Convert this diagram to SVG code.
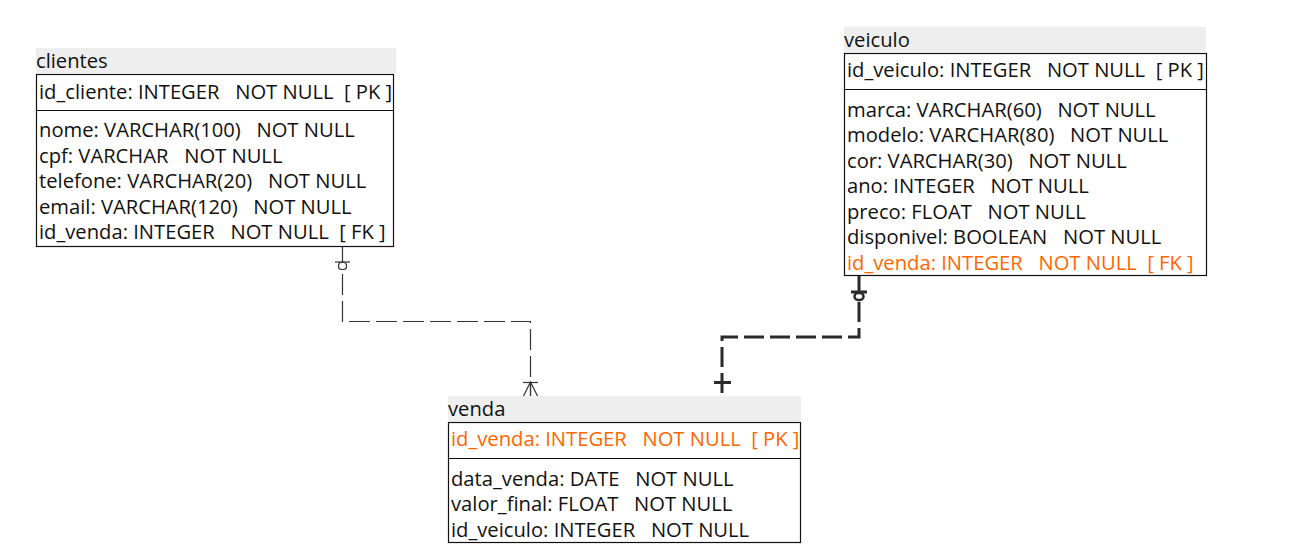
<svg xmlns="http://www.w3.org/2000/svg" width="1297" height="559" viewBox="0 0 1297 559" xml:space="preserve">
<style>
text{font-family:"Open Sans","Noto Sans",sans-serif;font-size:20.2px;fill:#111;white-space:pre}
.o{fill:#ff6600}
.hdr{fill:#eeeeee}
.box{fill:#fff;stroke:#111;stroke-width:1.2}
.div{stroke:#111;stroke-width:1.2}
.thin{fill:none;stroke:#333;stroke-width:1.2;stroke-dasharray:21 6}
.thick{fill:none;stroke:#2a2a2a;stroke-width:3;stroke-dasharray:20 6}
.mk{fill:none;stroke:#333;stroke-width:1.2}
.mkt{fill:none;stroke:#2a2a2a;stroke-width:3}
</style>
<rect width="1297" height="559" fill="#fff"/>
<g id="clientes">
<rect class="hdr" x="36" y="48" width="360" height="25"/>
<text x="36" y="68">clientes</text>
<rect class="box" x="36.5" y="74.5" width="357" height="172"/>
<line class="div" x1="36.5" y1="110.5" x2="393.5" y2="110.5"/>
<text x="39" y="98.5">id_cliente: INTEGER   NOT NULL  [ PK ]</text>
<text x="39" y="137">nome: VARCHAR(100)   NOT NULL</text>
<text x="39" y="163">cpf: VARCHAR   NOT NULL</text>
<text x="39" y="188">telefone: VARCHAR(20)   NOT NULL</text>
<text x="39" y="214">email: VARCHAR(120)   NOT NULL</text>
<text x="39" y="239">id_venda: INTEGER   NOT NULL  [ FK ]</text>
</g>
<g id="veiculo">
<rect class="hdr" x="844" y="27" width="362" height="25"/>
<text x="844" y="47">veiculo</text>
<rect class="box" x="844.5" y="53.5" width="362" height="222"/>
<line class="div" x1="844.5" y1="89.5" x2="1206.5" y2="89.5"/>
<text x="847" y="76.5">id_veiculo: INTEGER   NOT NULL  [ PK ]</text>
<text x="847" y="116.5">marca: VARCHAR(60)   NOT NULL</text>
<text x="847" y="142">modelo: VARCHAR(80)   NOT NULL</text>
<text x="847" y="167.5">cor: VARCHAR(30)   NOT NULL</text>
<text x="847" y="193">ano: INTEGER   NOT NULL</text>
<text x="847" y="218.5">preco: FLOAT   NOT NULL</text>
<text x="847" y="244">disponivel: BOOLEAN   NOT NULL</text>
<text class="o" x="847" y="269.5">id_venda: INTEGER   NOT NULL  [ FK ]</text>
</g>
<g id="venda">
<rect class="hdr" x="448" y="396" width="353" height="25"/>
<text x="448" y="416">venda</text>
<rect class="box" x="448.5" y="422.5" width="352" height="120"/>
<line class="div" x1="448.5" y1="458.5" x2="800.5" y2="458.5"/>
<text class="o" x="451" y="445.5">id_venda: INTEGER   NOT NULL  [ PK ]</text>
<text x="451" y="486">data_venda: DATE   NOT NULL</text>
<text x="451" y="511">valor_final: FLOAT   NOT NULL</text>
<text x="451" y="537">id_veiculo: INTEGER   NOT NULL</text>
</g>
<g id="connectors">
<path class="thin" d="M342.5 247 V321.5 H530.5 V396"/>
<line class="mk" x1="335" y1="262" x2="350" y2="262"/>
<rect x="338.5" y="262.5" width="8" height="7" rx="3" fill="#fff" stroke="#333" stroke-width="1.2"/>
<line class="mk" x1="523" y1="382.5" x2="538" y2="382.5"/>
<path class="mk" d="M523.5 396 L530.5 382 L537.5 396 M530.5 382 V396"/>
<path class="thick" d="M859 276 V337 H722 V396"/>
<line class="mkt" x1="851" y1="292" x2="867" y2="292"/>
<rect x="854.5" y="293" width="9" height="7" rx="3.5" fill="#fff" stroke="#2a2a2a" stroke-width="2.5"/>
<line class="mkt" x1="714" y1="382.5" x2="731" y2="382.5"/>
</g>
</svg>
